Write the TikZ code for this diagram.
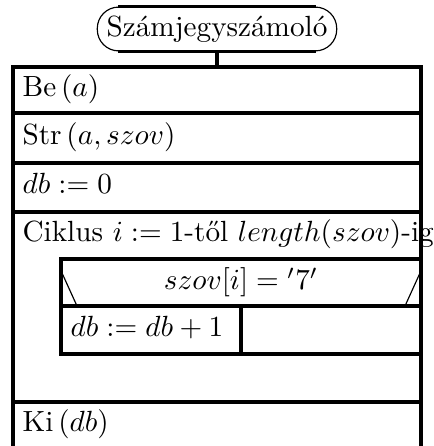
\documentclass[tikz,border=0pt]{standalone}
\usepackage{fontspec}
\begin{document}
\begin{tikzpicture}[
        x=0.3425pt, y=-0.3425pt,
        frame/.style={line width=1.1pt},
        thinline/.style={line width=0.4pt},
        every node/.style={inner sep=0pt, anchor=base west},
        title/.style={draw, thinline, rounded corners=7.3pt, minimum width=82pt, minimum height=15pt, anchor=center},
    ]
    \useasboundingbox (0,0) rectangle (433,446);
    % header
    \node[title](title) at (217,29){Számjegyszámoló};
    \draw[frame] ([xshift=7.3pt]title.north west) -- ([xshift=-7.3pt]title.north east);
    \draw[frame] ([xshift=7.3pt]title.south west) -- ([xshift=-7.3pt]title.south east);
    \coordinate (top) at (217,67);
    \draw[frame] (title.south) -- (top);
    % outer frame and rows
    \draw[frame] (13,446) -- (13,67) -- (421,67) -- (421,446);
    \foreach \y in {113,163,212,402}
        \draw[frame] (13,\y) -- (421,\y);
    % if block
    \draw[frame] (421,259) -- (61,259) -- (61,354) -- (421,354);
    \draw[frame] (61,306) -- (421,306);
    \draw[frame] (241,306) -- (241,354);
    \draw[thinline] (62,273) -- (77,306);
    \draw[thinline] (420,273) -- (405,306);
    % texts
    \node(be) at (22,97){Be\,$(a)$};
    \node(str) at (22,145){Str\,$(a, szov)$};
    \node(db0) at (22,194){$db := 0$};
    \node(ciklus) at (22,242){Ciklus $i := 1$-től $length(szov)$-ig};
    \node[anchor=base](felt) at (241,290){$szov[i] = {}'7'$};
    \node(novel) at (70,337){$db := db + 1$};
    \node(ki) at (22,431){Ki\,$(db)$};
\end{tikzpicture}
\end{document}
